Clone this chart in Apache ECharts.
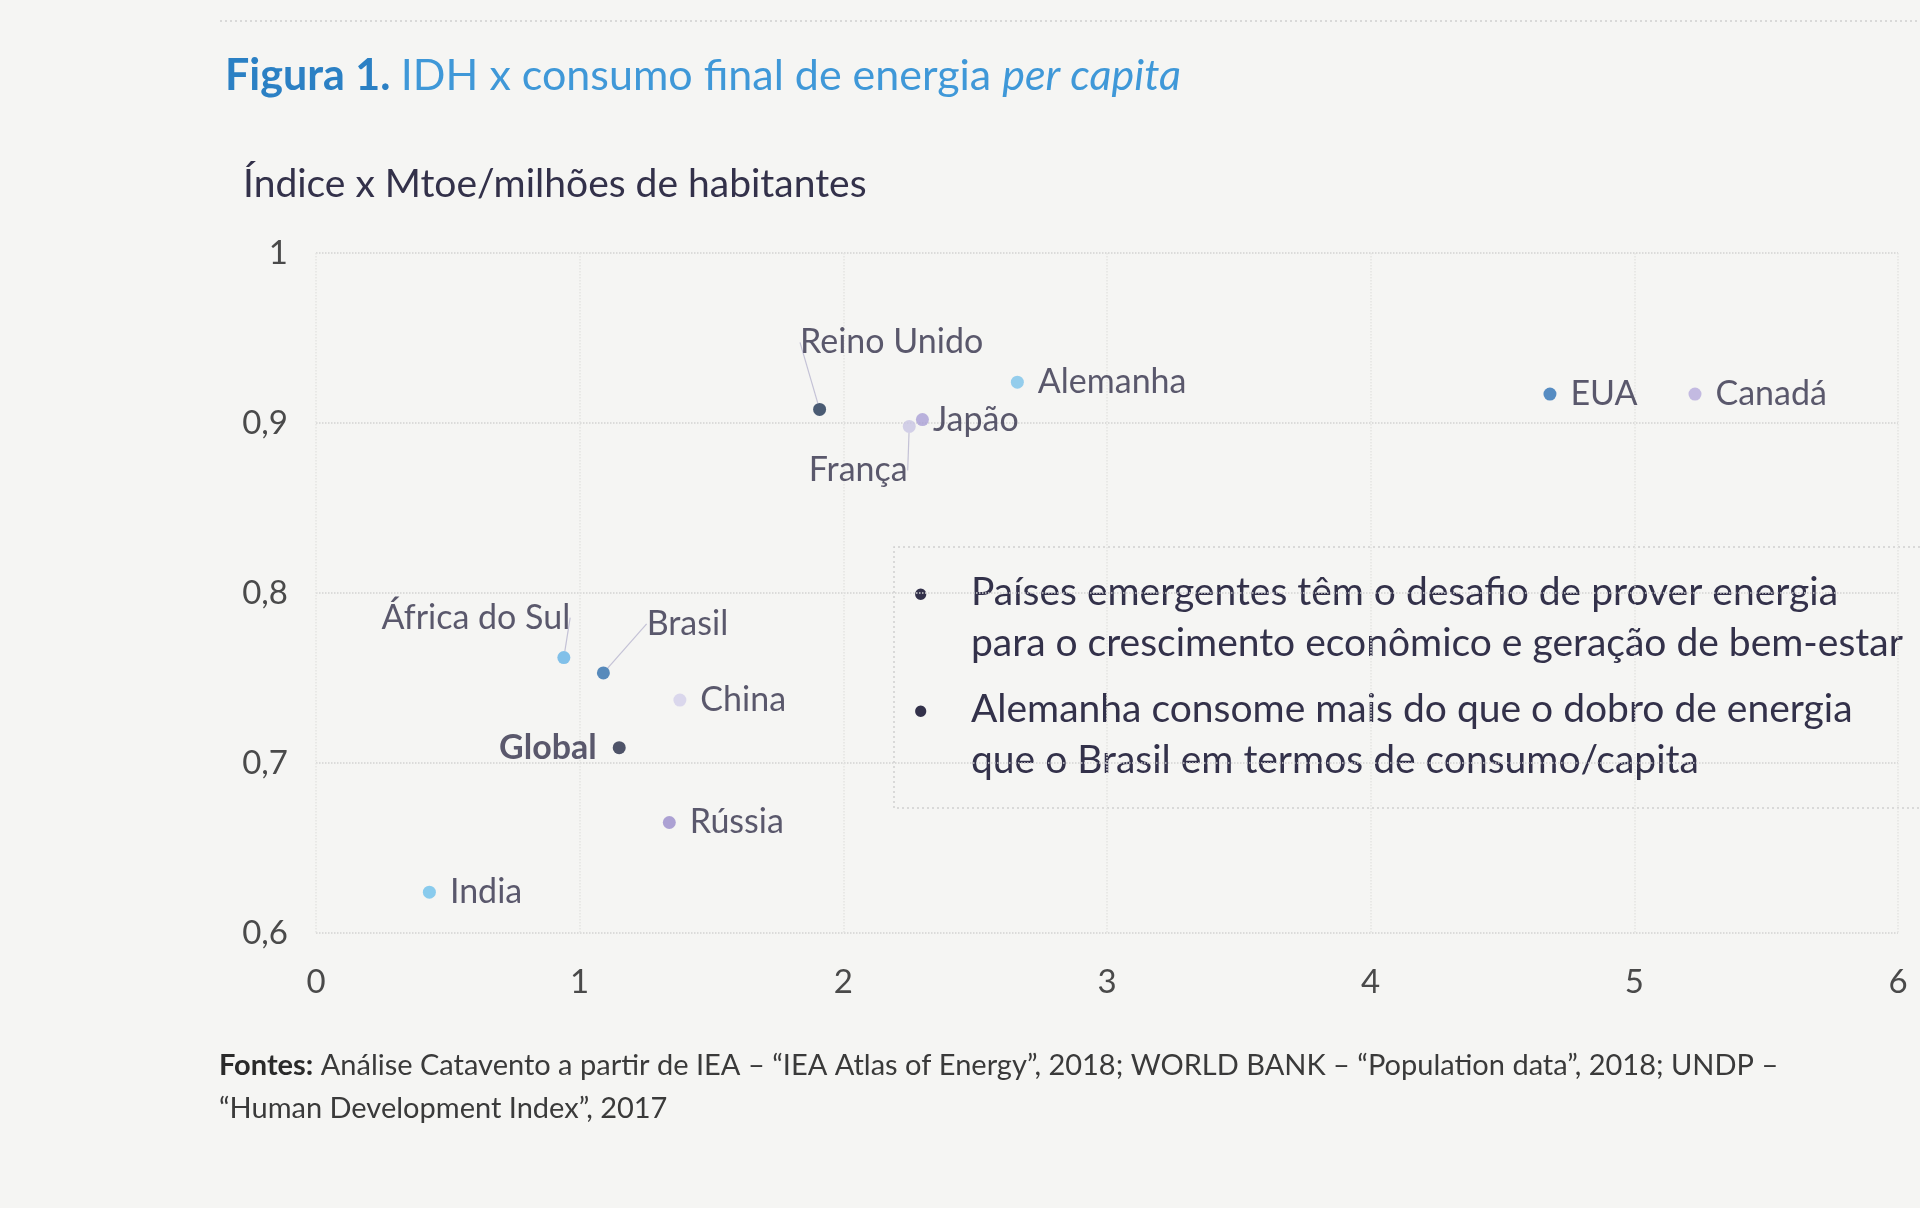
<!DOCTYPE html>
<html>
<head>
<meta charset="utf-8">
<style>
  html, body { margin: 0; padding: 0; background: #f5f5f3; }
  #chart { width: 1920px; height: 1208px; }
</style>
</head>
<body>
<div id="chart"></div>
<script src="https://cdn.jsdelivr.net/npm/echarts@6/dist/echarts.min.js"></script>
<script>
// country, energy per capita (Mtoe / millions hab.), HDI
var countries = ['Reino Unido', 'França', 'Japão', 'Alemanha', 'EUA', 'Canadá',
                 'África do Sul', 'Brasil', 'China', 'Global', 'Rússia', 'India'];
var energy    = [1.91, 2.25, 2.30, 2.66, 4.68, 5.23, 0.94, 1.09, 1.38, 1.15, 1.34, 0.43];
var idh       = [0.908, 0.898, 0.902, 0.924, 0.917, 0.917, 0.762, 0.753, 0.737, 0.709, 0.665, 0.624];
var xTicks = [0, 1, 2, 3, 4, 5, 6];
var yTicks = [0.6, 0.7, 0.8, 0.9, 1];
var notes = [
    ['Países emergentes têm o desafio de prover energia',
     'para o crescimento econômico e geração de bem-estar'],
    ['Alemanha consome mais do que o dobro de energia',
     'que o Brasil em termos de consumo/capita']
];

// styles
var dotColor = {
    'Reino Unido': '#1f3552', 'França': '#c9c6e3', 'Japão': '#aaa0d6', 'Alemanha': '#7cc3ea',
    'EUA': '#2e72b5', 'Canadá': '#b6abdc', 'África do Sul': '#64b3e6', 'Brasil': '#2f6fad',
    'China': '#d3d0ea', 'Global': '#242a45', 'Rússia': '#9a8ccb', 'India': '#6ec1eb'
};
// labels moved away from the dot, joined by a thin leader line
var moved = {
    'Reino Unido': [72, -67], 'França': [-51, 44], 'África do Sul': [-88, -40], 'Brasil': [84, -49]
};
var textColor = '#33314a';
var font = 'Lato';

var chart = echarts.init(document.getElementById('chart'));

var points = countries.map(function (c, i) {
    var item = { name: c, value: [energy[i], idh[i]], itemStyle: { color: dotColor[c] } };
    if (moved[c]) {
        item.label = { position: 'inside' };
        item.labelLine = { show: true };
    } else if (c === 'Global') {
        item.label = { position: 'left', fontWeight: 'bold', distance: 16 };
    } else if (c === 'Japão') {
        item.label = { position: 'right', offset: [-2, 23], distance: 4 };
    }
    return item;
});

var noteLines = [];
var lineY = [597, 648, 714, 765];
var k = 0;
notes.forEach(function (n) {
    n.forEach(function (t, j) {
        if (j === 0) {
            noteLines.push({ type: 'text', left: 912, top: lineY[k] - 19,
                style: { text: '•', font: '30px ' + font, fill: textColor } });
        }
        noteLines.push({ type: 'text', left: 971, top: lineY[k] - 24,
            style: { text: t, font: '39px ' + font, fill: textColor } });
        k++;
    });
});

var option = {
    backgroundColor: '#f5f5f3',
    animation: false,
    textStyle: { fontFamily: font },
    title: [
        {
            left: 220, top: 50,
            text: '{b|Figura 1. }{n|IDH x consumo final de energia }{i|per capita}',
            textStyle: {
                rich: {
                    b: { fontSize: 43, fontWeight: 'bold', color: '#2b80c4', fontFamily: font },
                    n: { fontSize: 43, fontWeight: 'normal', color: '#3f98d8', fontFamily: font },
                    i: { fontSize: 43, fontWeight: 'normal', fontStyle: 'italic', color: '#3f98d8', fontFamily: font }
                }
            }
        },
        {
            left: 238, top: 160,
            text: 'Índice x Mtoe/milhões de habitantes',
            textStyle: { fontSize: 39, fontWeight: 'normal', color: textColor, fontFamily: font }
        },
        {
            left: 214, top: 1039,
            text: '{b|Fontes:} Análise Catavento a partir de IEA – “IEA Atlas of Energy”, 2018; WORLD BANK – “Population data”, 2018; UNDP –\n“Human Development Index”, 2017',
            textStyle: {
                fontSize: 29, fontWeight: 'normal', color: '#3a3a3a', fontFamily: font, lineHeight: 43,
                rich: { b: { fontSize: 29, fontWeight: 'bold', color: '#2a2a2a', fontFamily: font, lineHeight: 43 } }
            }
        }
    ],
    grid: { left: 316, right: 22, top: 253, bottom: 275 },
    xAxis: {
        type: 'value', min: xTicks[0], max: xTicks[xTicks.length - 1], interval: 1,
        axisLine: { show: false }, axisTick: { show: false },
        axisLabel: { fontSize: 33, color: '#4a4a4a', margin: 33, fontFamily: font },
        splitLine: { show: true, lineStyle: { type: 'dotted', color: '#e4e4e2', width: 1.5 } }
    },
    yAxis: {
        type: 'value', min: yTicks[0], max: yTicks[yTicks.length - 1], interval: 0.1,
        axisLine: { show: false }, axisTick: { show: false },
        axisLabel: {
            fontSize: 33, color: '#4a4a4a', margin: 28, fontFamily: font,
            formatter: function (v) { return v === 1 ? '1' : v.toFixed(1).replace('.', ','); }
        },
        splitLine: { show: true, lineStyle: { type: 'dotted', color: '#d2d2d2', width: 1.5 } }
    },
    graphic: [
        { type: 'line', shape: { x1: 220, y1: 21, x2: 1920, y2: 21 },
          style: { stroke: '#cfcfcf', lineWidth: 1.5, lineDash: [2, 3] } },
        { type: 'polyline', shape: { points: [[1920, 547], [894, 547], [894, 808], [1920, 808]] },
          style: { stroke: '#cfcfcf', lineWidth: 1.5, lineDash: [2, 3], fill: null } }
    ].concat(noteLines),
    series: [{
        type: 'scatter',
        symbolSize: 13,
        data: points,
        label: {
            show: true, position: 'right', distance: 14,
            formatter: '{b}', fontSize: 34, color: textColor, fontFamily: font
        },
        labelLine: { show: false, lineStyle: { color: '#c4c2d6', width: 1.2 } },
        labelLayout: function (p) {
            var m = moved[countries[p.dataIndex]];
            return m ? { dx: m[0], dy: m[1] } : {};
        }
    }]
};

chart.setOption(option);
</script>
</body>
</html>
